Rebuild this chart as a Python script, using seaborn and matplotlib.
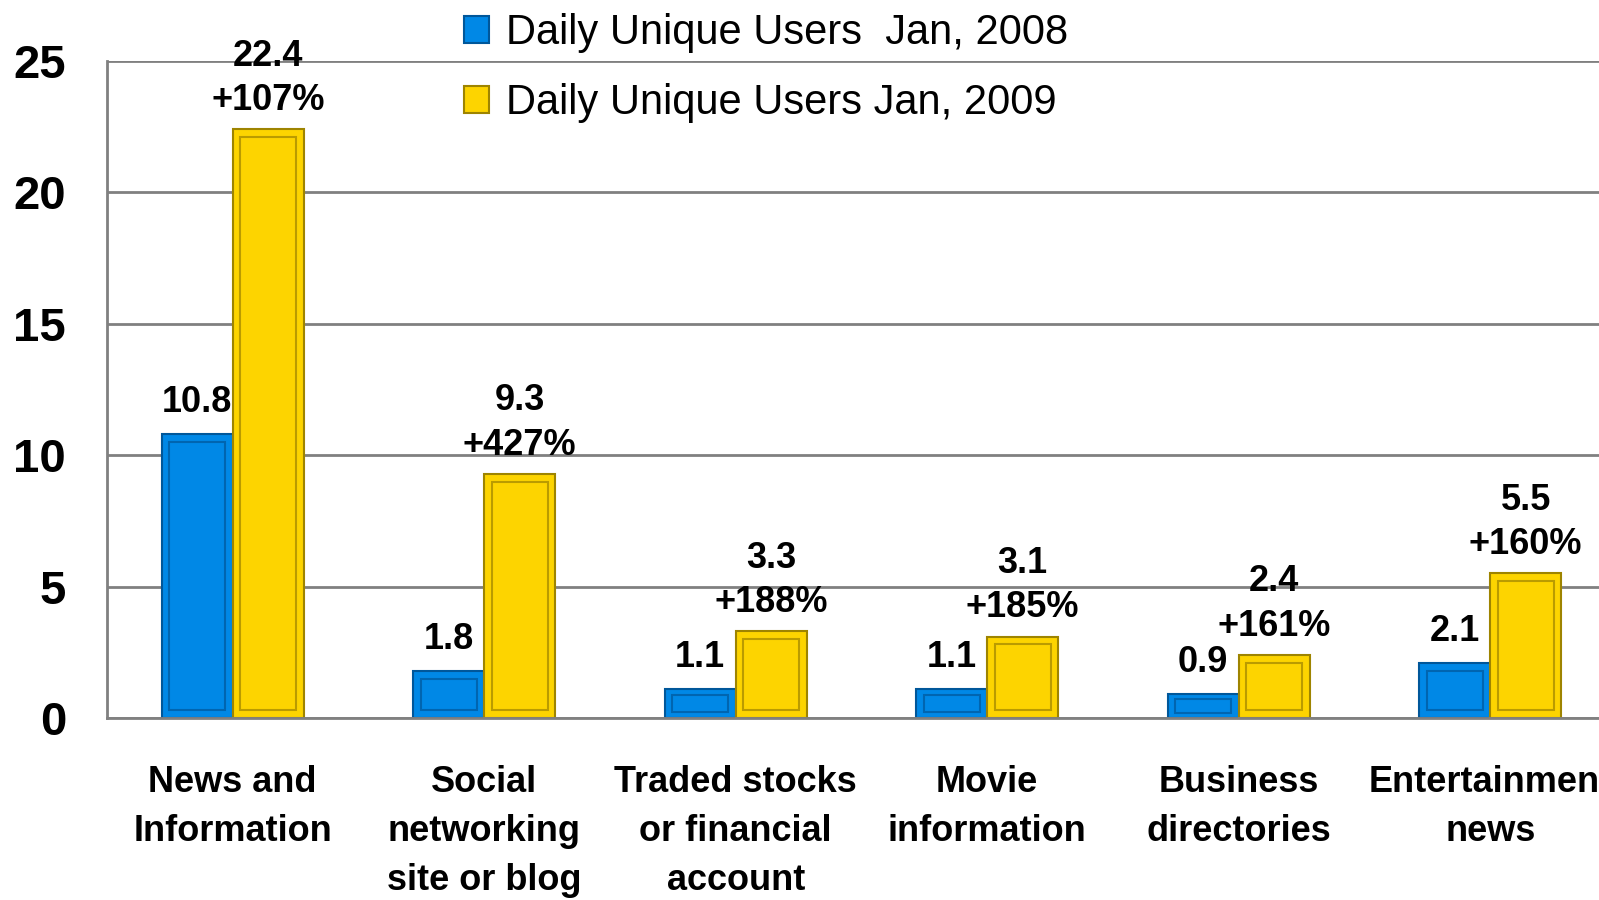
import pandas as pd
import numpy as np
import matplotlib
matplotlib.use("Agg")
import matplotlib.pyplot as plt
from matplotlib.patches import Rectangle
import seaborn as sns

categories = ["News and\nInformation", "Social\nnetworking\nsite or blog",
              "Traded stocks\nor financial\naccount", "Movie\ninformation",
              "Business\ndirectories", "Entertainment\nnews"]
users_2008 = [10.8, 1.8, 1.1, 1.1, 0.9, 2.1]
users_2009 = [22.4, 9.3, 3.3, 3.1, 2.4, 5.5]
growth_pct = [107, 427, 188, 185, 161, 160]
series = ["Daily Unique Users  Jan, 2008", "Daily Unique Users Jan, 2009"]
yticks = [0, 5, 10, 15, 20, 25]

df = pd.DataFrame({
    "category": categories * 2,
    "users": users_2008 + users_2009,
    "series": [series[0]] * len(categories) + [series[1]] * len(categories),
})

blue, yellow = "#0088E6", "#FDD400"
blue_edge, yellow_edge = "#00579A", "#9E8400"

sns.set_style("white")
plt.rcParams["font.family"] = ["Liberation Sans", "DejaVu Sans"]
plt.rcParams["text.color"] = "black"
plt.rcParams["xtick.labelcolor"] = "black"
plt.rcParams["ytick.labelcolor"] = "black"

fig = plt.figure(figsize=(15.99, 9), dpi=100)
ax = fig.add_axes([0.0669, 0.2022, 0.9437, 0.73])

sns.barplot(data=df, x="category", y="users", hue="series",
            palette=[blue, yellow], saturation=1, width=0.565, ax=ax,
            legend=True)

edges = [blue_edge] * len(categories) + [yellow_edge] * len(categories)
for bar, ec in zip(ax.patches[:2 * len(categories)], edges):
    bar.set_edgecolor(ec)
    bar.set_linewidth(1.5)
    bar.set_zorder(3)
    # bevel: inner darker frame
    x, w, h = bar.get_x(), bar.get_width(), bar.get_height()
    dx, dy = 0.03, min(0.3, h * 0.2)
    ax.add_patch(Rectangle((x + dx, dy), w - 2 * dx, h - 2 * dy, fill=False,
                           edgecolor=ec, linewidth=1.5, alpha=0.7, zorder=4))

ax.set_ylim(0, 25)
ax.set_xlim(-0.5, 5.5)
ax.set_yticks(yticks)
ax.yaxis.grid(True, color="#808080", linewidth=2)
ax.set_axisbelow(True)
for s in ["top", "right"]:
    ax.spines[s].set_visible(False)
for s in ["left", "bottom"]:
    ax.spines[s].set_color("#808080")
    ax.spines[s].set_linewidth(2)
    ax.spines[s].set_zorder(5)

ax.set_xlabel("")
ax.set_ylabel("")
ax.tick_params(axis="y", length=9.5, width=2, color="#808080", pad=20,
               labelsize=34)
for t in ax.get_yticklabels():
    t.set_fontweight("bold")
ax.set_xticks(np.arange(-0.5, 6.0, 1.0), minor=True)
ax.tick_params(axis="x", which="major", length=0, pad=34)
ax.tick_params(axis="x", which="minor", length=9, width=2, color="#808080",
               direction="out")
ax.set_xticks(range(len(categories)))
ax.set_xticklabels(categories, fontsize=26, fontweight="bold", linespacing=1.52)

for i, (a, b, p) in enumerate(zip(users_2008, users_2009, growth_pct)):
    ax.annotate(f"{a}", (i - 0.1413, a), xytext=(0, 10), textcoords="offset points",
                ha="center", va="bottom", fontsize=26, fontweight="bold", zorder=2)
    ax.annotate(f"{b}\n+{p}%", (i + 0.1413, b), xytext=(0, 8),
                textcoords="offset points", ha="center", va="bottom",
                fontsize=26, fontweight="bold", linespacing=1.35, zorder=6)

leg = ax.legend(loc="upper left", bbox_to_anchor=(0.212, 1.13),
                frameon=False, fontsize=30, handlelength=0.6, handleheight=0.6,
                handletextpad=0.4, labelspacing=0.72)
for h, ec in zip(leg.legend_handles, [blue_edge, yellow_edge]):
    h.set_edgecolor(ec)
    h.set_linewidth(1.5)

fig.savefig("out.png", dpi=100)
